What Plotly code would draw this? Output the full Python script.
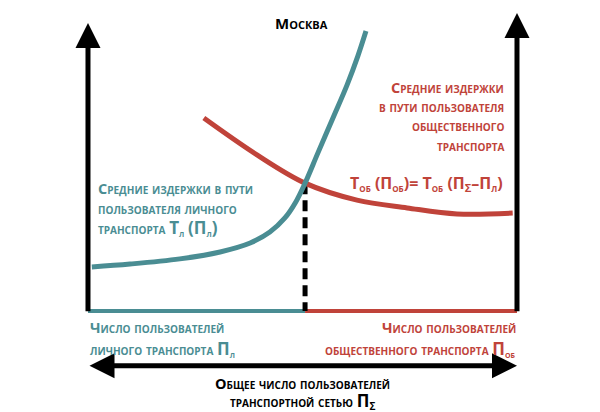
import plotly.graph_objects as go

# schematic units: x = share of users (0 = left axis, 100 = right axis), y = average trip cost
teal_x = [0.9, 9.8, 21.4, 30.8, 37.8, 42.4, 45.9, 48.3, 50.6, 53.6, 57.1, 60.4, 62.9, 64.8]
teal_y = [15.3, 16.3, 18.1, 20.5, 23.6, 27.4, 32.3, 37.5, 44.4, 54.9, 67.0, 78.5, 88.5, 97.2]
red_x = [27, 39.4, 50.6, 62.7, 74.4, 86, 99]
red_y = [67, 54.2, 44.4, 38.5, 35.8, 33.7, 34]
eq_x, eq_y = 50.6, 44.4
axis_left, axis_right = 0, 100
left_top, right_top = 100, 103.5
total_y = -19

TEAL = "#4a8d93"
RED = "#c0433a"
FONT = "Open Sans"

fig = go.Figure()

# baseline split at the equilibrium
fig.add_trace(go.Scatter(x=[axis_left, eq_x], y=[0, 0], mode="lines",
                         line=dict(color=TEAL, width=4)))
fig.add_trace(go.Scatter(x=[eq_x, axis_right], y=[0, 0], mode="lines",
                         line=dict(color=RED, width=4)))
fig.add_trace(go.Scatter(x=[eq_x, eq_x], y=[eq_y, 0], mode="lines",
                         line=dict(color="black", width=5, dash="11px,6px")))
fig.add_trace(go.Scatter(x=red_x, y=red_y, mode="lines",
                         line=dict(color=RED, width=5, shape="spline")))
fig.add_trace(go.Scatter(x=teal_x, y=teal_y, mode="lines",
                         line=dict(color=TEAL, width=5, shape="spline")))


def arrow(x, y, ax, ay, both=False):
    fig.add_annotation(x=x, y=y, ax=ax, ay=ay, xref="x", yref="y", axref="x", ayref="y",
                       text="", showarrow=True, arrowhead=2, arrowsize=1, arrowwidth=5,
                       arrowcolor="black", arrowside="end+start" if both else "end",
                       standoff=0, startstandoff=0)


arrow(axis_left, left_top, axis_left, -0.6)
arrow(axis_right, right_top, axis_right, -0.6)
arrow(axis_right, total_y, axis_left, total_y, both=True)


def label(px, py, text, color, size=14.5, anchor="left"):
    fig.add_annotation(x=px / 600, y=1 - py / 412, xref="paper", yref="paper",
                       text=text, showarrow=False, xanchor=anchor, yanchor="middle",
                       font=dict(family=FONT, size=size, color=color, weight=700,
                                 variant="small-caps"))


def big(s):
    return f'<span style="font-size:17px">{s}</span>'


label(301, 23, "Москва", "black", size=15, anchor="center")

for i, t in enumerate(["Средние издержки", "в пути пользователя",
                       "общественного", "транспорта"]):
    label(506, 87 + i * 19.5, t, RED, anchor="right")
label(505, 183, "Т<sub>об</sub> (П<sub>об</sub>)= Т<sub>об</sub> (П<sub>Σ</sub>–П<sub>л</sub>)",
      RED, size=16, anchor="right")

teal_lines = ["Средние издержки в пути", "пользователя личного",
              "транспорта " + big("Т") + "<sub>л</sub> " + big("(П") + "<sub>л</sub>" + big(")")]
for i, t in enumerate(teal_lines):
    label(96, 188 + i * 20, t, TEAL)

label(88, 327, "Число пользователей", TEAL)
label(88, 349, "личного транспорта " + big("П") + "<sub>л</sub>", TEAL)
label(518, 327, "Число пользователей", RED, anchor="right")
label(518, 349, "общественного транспорта " + big("П") + "<sub>об</sub>", RED, anchor="right")

label(302, 383, "Общее число пользователей", "black", anchor="center")
label(302, 401, "транспортной сетью " + big("П") + "<sub>Σ</sub>", "black", anchor="center")

fig.update_layout(
    width=600, height=412,
    margin=dict(l=0, r=0, t=0, b=0),
    plot_bgcolor="white", paper_bgcolor="white",
    showlegend=False,
    xaxis=dict(range=[-20.51, 119.35], visible=False, fixedrange=True),
    yaxis=dict(range=[-35.07, 107.99], visible=False, fixedrange=True),
)

fig.write_html("out.html", config={"displayModeBar": False},
               post_script="document.body.style.margin='0';")
